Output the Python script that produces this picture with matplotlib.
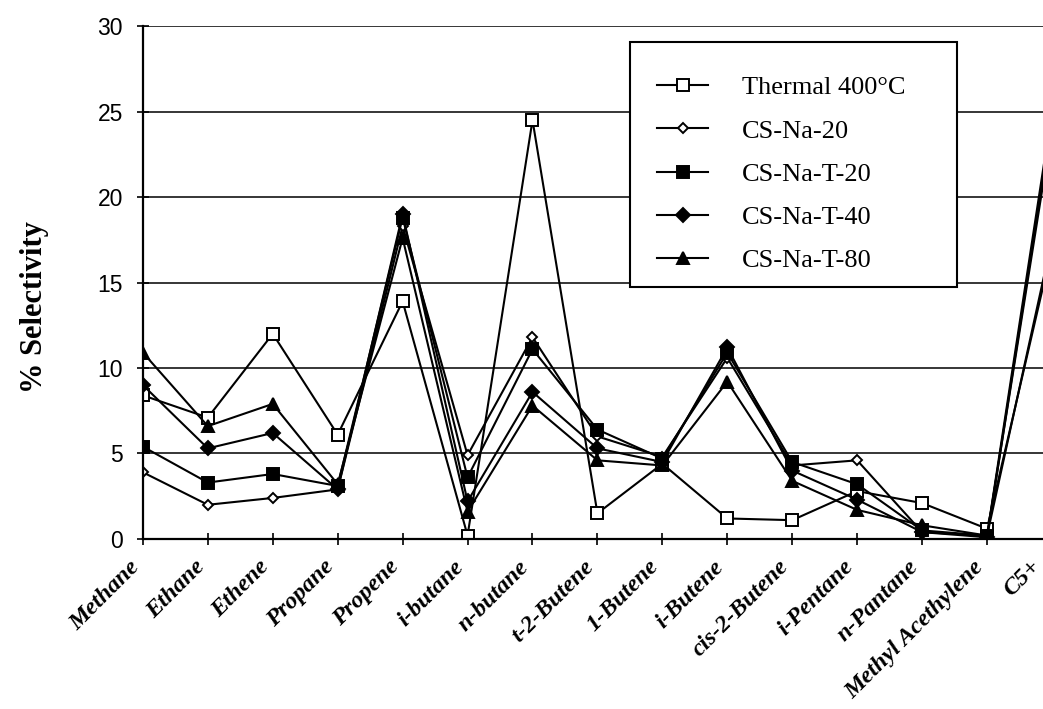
import matplotlib
matplotlib.use("Agg")
import matplotlib.pyplot as plt
from matplotlib.patches import Rectangle
from matplotlib.transforms import ScaledTranslation
import numpy as np

# --- DATA ---
categories = ["Methane", "Ethane", "Ethene", "Propane", "Propene", "i-butane",
              "n-butane", "t-2-Butene", "1-Butene", "i-Butene", "cis-2-Butene",
              "i-Pentane", "n-Pantane", "Methyl Acethylene", "C5+"]

thermal_400 = [8.4, 7.1, 12.0, 6.1, 13.9, 0.2, 24.5, 1.5, 4.4, 1.2, 1.1, 2.8, 2.1, 0.6, 17.0]
cs_na_20 = [3.9, 2.0, 2.4, 2.9, 18.3, 4.9, 11.8, 6.0, 4.8, 10.6, 4.3, 4.6, 0.4, 0.2, 24.0]
cs_na_t_20 = [5.4, 3.3, 3.8, 3.1, 18.8, 3.6, 11.1, 6.4, 4.7, 10.9, 4.5, 3.2, 0.5, 0.2, 25.0]
cs_na_t_40 = [9.0, 5.3, 6.2, 2.9, 19.0, 2.2, 8.6, 5.3, 4.5, 11.2, 4.0, 2.3, 0.4, 0.1, 24.5]
cs_na_t_80 = [10.9, 6.6, 7.9, 3.2, 17.6, 1.6, 7.8, 4.6, 4.3, 9.2, 3.4, 1.7, 0.8, 0.2, 17.5]

series_names = ["Thermal 400°C", "CS-Na-20", "CS-Na-T-20", "CS-Na-T-40", "CS-Na-T-80"]
y_ticks = [0, 5, 10, 15, 20, 25, 30]

# --- STYLE ---
styles = [
    dict(marker="s", markersize=8.5, markerfacecolor="white"),
    dict(marker="D", markersize=5.5, markerfacecolor="white"),
    dict(marker="s", markersize=8.5, markerfacecolor="black"),
    dict(marker="D", markersize=7, markerfacecolor="black"),
    dict(marker="^", markersize=9, markerfacecolor="black"),
]

fig = plt.figure(figsize=(10.43, 7.09), dpi=100)
# plot area runs a little past the right edge of the page
ax = fig.add_axes([0.137, 0.2398, 0.8716, 0.7235])

x = np.arange(len(categories))
all_series = [thermal_400, cs_na_20, cs_na_t_20, cs_na_t_40, cs_na_t_80]
for name, vals, st in zip(series_names, all_series, styles):
    ax.plot(x, vals, color="black", linewidth=1.5, markeredgecolor="black",
            markeredgewidth=1.4, label=name, **st)

ax.set_xlim(0, len(categories) - 1)
ax.set_ylim(0, 30)
ax.set_yticks(y_ticks)
ax.set_yticklabels([str(t) for t in y_ticks], fontsize=16.5,
                   fontfamily="Liberation Sans")
ax.set_xticks(x)
ax.set_xticklabels(categories, rotation=45, ha="right", va="top",
                   rotation_mode="anchor", fontsize=17.5,
                   fontfamily="Liberation Serif", fontweight="bold",
                   fontstyle="italic")
ax.tick_params(axis="both", direction="inout", length=9, width=1.2,
               color="black")
ax.tick_params(axis="y", pad=10)
ax.tick_params(axis="x", pad=8)

# nudge the slanted category names a little to the left;
# the last one sits at the page edge, so it moves a bit further
xlabels = ax.get_xticklabels()
for i, lab in enumerate(xlabels):
    dx = -14 if i < len(xlabels) - 1 else -22
    lab.set_transform(lab.get_transform()
                      + ScaledTranslation(dx / 100, 0, fig.dpi_scale_trans))

ax.yaxis.grid(True, color="black", linewidth=1.1)
ax.set_axisbelow(True)
for s in ["top", "right"]:
    ax.spines[s].set_visible(False)
for s in ["left", "bottom"]:
    ax.spines[s].set_linewidth(1.6)
    ax.spines[s].set_color("black")

fig.text(0.033, 0.567, "% Selectivity", rotation=90, ha="center", va="center",
         fontsize=22, fontfamily="Liberation Serif", fontweight="bold")

# legend box drawn separately so the entries can sit lower inside it
box = Rectangle((0.604, 0.595), 0.3135, 0.3458, transform=fig.transFigure,
                facecolor="white", edgecolor="black", linewidth=1.5, zorder=4)
ax.add_patch(box)
box.set_clip_on(False)

leg = ax.legend(loc="upper left", bbox_to_anchor=(0.63, 0.893),
                bbox_transform=fig.transFigure,
                prop={"family": "Liberation Serif", "size": 19},
                frameon=False, borderpad=0, borderaxespad=0,
                handlelength=1.93, handletextpad=1.29, labelspacing=0.75)
leg.set_zorder(5)

fig.savefig("out.png", dpi=100)
